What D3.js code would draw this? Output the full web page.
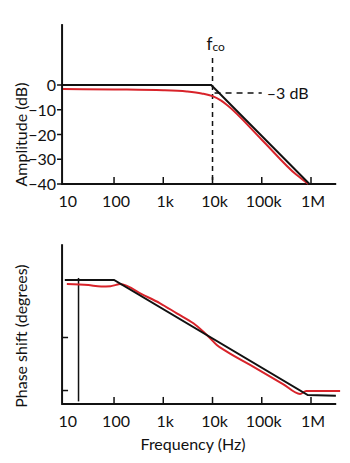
<!DOCTYPE html>
<html><head><meta charset="utf-8">
<script src="https://cdn.jsdelivr.net/npm/d3@7"></script>
<style>
html,body{margin:0;padding:0;background:#fff;}
text{font-family:Lato,"Open Sans",sans-serif;fill:#111;}
</style></head>
<body><svg id="c" width="350" height="463"></svg>
<script>
// ---- data ----
const freqTicks = [10, 100, 1e3, 1e4, 1e5, 1e6];
const freqTickLabels = ["10", "100", "1k", "10k", "100k", "1M"];
const freqExtent = [8.8, 3.25e6];

const ampTicks = [0, -10, -20, -30, -40];
const ampTickLabels = ["0", "\u221210", "\u221220", "\u221230", "\u221240"];
const ampExtent = [24.6, -40];

// idealised (asymptotic) amplitude response, dB
const ampIdeal = [[9.0, 0], [9.4e3, 0], [9.3e5, -40]];
// actual amplitude response, dB
const ampActual = [[9.2, -1.6], [100, -1.8], [1e3, -2.1], [3e3, -2.6], [6e3, -3.4], [1e4, -4.5],
  [1.5e4, -6.3], [2e4, -8.2], [1e5, -22.1], [5e5, -36.2], [8.8e5, -40]];
const cutoffFreq = 1e4;
const cutoffLineRange = [10.9, -40];
const minus3Line = [[1.1e4, -3.2], [1.0e5, -3.2]];

const phaseTicks = [-45, -86.5];
const phaseExtent = [28, -97];
// idealised phase, degrees
const phaseIdeal = [[10, 0], [100, 0], [8.6e5, -90], [3.2e6, -90.5]];
// actual phase, degrees
const phaseActual = [[11, -3.1], [30, -4.0], [55, -5.0], [85, -4.8], [110, -3.8], [132, -3.1],
  [390, -11.7], [861, -18.2], [1.88e3, -26.1], [4.09e3, -33.9], [6.53e3, -40.5], [8.94e3, -45.6],
  [12.2e3, -50.9], [19.5e3, -56.1], [58e3, -66.5], [2.7e5, -81.4], [6e5, -89.2], [8e5, -86.9],
  [3.9e6, -86.9]];
const markerFreq = 19;
const markerRange = [1.6, -95];

// ---- drawing ----
const svg = d3.select("#c");
const black = "#111", red = "#d8232a";
const FS = 16;

const x = d3.scaleLog().domain([10, 1e6]).range([64.8, 311]);
const yA = d3.scaleLinear().domain([0, -40]).range([85, 184]);
const yP = d3.scaleLinear().domain([0, -90]).range([280, 395]);

function drawXAxis(yScale, yBase) {
  const y0 = yScale(yBase);
  svg.append("line").attr("x1", x(freqExtent[0])).attr("x2", x(freqExtent[1]))
    .attr("y1", y0).attr("y2", y0).attr("stroke", black).attr("stroke-width", 2);
  svg.selectAll(null).data(freqTicks.slice(1)).enter().append("line")
    .attr("x1", d => x(d)).attr("x2", d => x(d))
    .attr("y1", y0).attr("y2", y0 - 7).attr("stroke", black).attr("stroke-width", 1.5);
  svg.selectAll(null).data(freqTicks).enter().append("text")
    .attr("x", (d, i) => x(d) + (i === 0 ? 3 : 2)).attr("y", y0 + 23)
    .attr("text-anchor", "middle").attr("font-size", FS)
    .text((d, i) => freqTickLabels[i]);
}

// top chart
svg.append("line").attr("x1", x(freqExtent[0])).attr("x2", x(freqExtent[0]))
  .attr("y1", yA(ampExtent[0])).attr("y2", yA(ampExtent[1]) + 1)
  .attr("stroke", black).attr("stroke-width", 2);
drawXAxis(yA, -40);
svg.selectAll(null).data(ampTicks).enter().append("line")
  .attr("x1", x(freqExtent[0]) - 5).attr("x2", x(freqExtent[0]))
  .attr("y1", d => yA(d)).attr("y2", d => yA(d)).attr("stroke", black).attr("stroke-width", 1.5);
svg.selectAll(null).data(ampTicks).enter().append("text")
  .attr("x", 56).attr("y", d => yA(d) + 6).attr("text-anchor", "end").attr("font-size", FS)
  .text((d, i) => ampTickLabels[i]);
svg.append("text").attr("transform", `translate(27,${(yA(0) + yA(-40)) / 2}) rotate(-90)`)
  .attr("text-anchor", "middle").attr("font-size", FS).text("Amplitude (dB)");

// cutoff dashed line
svg.append("line").attr("x1", x(cutoffFreq)).attr("x2", x(cutoffFreq))
  .attr("y1", yA(cutoffLineRange[0])).attr("y2", yA(cutoffLineRange[1]))
  .attr("stroke", black).attr("stroke-width", 1.5).attr("stroke-dasharray", "5,4");
svg.append("line").attr("x1", x(minus3Line[0][0])).attr("x2", x(minus3Line[1][0]))
  .attr("y1", yA(minus3Line[0][1])).attr("y2", yA(minus3Line[1][1]))
  .attr("stroke", black).attr("stroke-width", 1.5).attr("stroke-dasharray", "6,5");
svg.append("text").attr("x", x(minus3Line[1][0]) + 5).attr("y", yA(minus3Line[0][1]) + 6)
  .attr("font-size", FS).text("\u20133 dB");
const fco = svg.append("text").attr("x", x(cutoffFreq) - 6).attr("y", 50).attr("font-size", 17);
fco.append("tspan").text("f");
fco.append("tspan").attr("font-size", 12).attr("dy", 1).text("co");

const lineA = d3.line().x(d => x(d[0])).y(d => yA(d[1]));
svg.append("path").attr("d", d3.line().x(d => x(d[0])).y(d => yA(d[1])).curve(d3.curveMonotoneX)(ampActual))
  .attr("fill", "none").attr("stroke", red).attr("stroke-width", 2);
svg.append("path").attr("d", lineA(ampIdeal))
  .attr("fill", "none").attr("stroke", black).attr("stroke-width", 2);

// bottom chart
svg.append("line").attr("x1", x(freqExtent[0])).attr("x2", x(freqExtent[0]))
  .attr("y1", yP(phaseExtent[0])).attr("y2", yP(phaseExtent[1]) + 1)
  .attr("stroke", black).attr("stroke-width", 2);
drawXAxis(yP, -97);
svg.selectAll(null).data(phaseTicks).enter().append("line")
  .attr("x1", x(freqExtent[0])).attr("x2", x(freqExtent[0]) + 6)
  .attr("y1", d => yP(d)).attr("y2", d => yP(d)).attr("stroke", black).attr("stroke-width", 1.5);
svg.append("text").attr("transform", `translate(27,${(yP(phaseExtent[0]) + yP(phaseExtent[1])) / 2 + 12}) rotate(-90)`)
  .attr("text-anchor", "middle").attr("font-size", FS).text("Phase shift (degrees)");
svg.append("text").attr("x", 193).attr("y", yP(-97) + 46).attr("text-anchor", "middle")
  .attr("font-size", FS).text("Frequency (Hz)");

svg.append("line").attr("x1", x(markerFreq)).attr("x2", x(markerFreq))
  .attr("y1", yP(markerRange[0])).attr("y2", yP(markerRange[1]))
  .attr("stroke", black).attr("stroke-width", 1.5);
svg.append("path").attr("d", d3.line().x(d => x(d[0])).y(d => yP(d[1])).curve(d3.curveMonotoneX)(phaseActual))
  .attr("fill", "none").attr("stroke", red).attr("stroke-width", 2);
svg.append("path").attr("d", d3.line().x(d => x(d[0])).y(d => yP(d[1]))(phaseIdeal))
  .attr("fill", "none").attr("stroke", black).attr("stroke-width", 2);
</script></body></html>
